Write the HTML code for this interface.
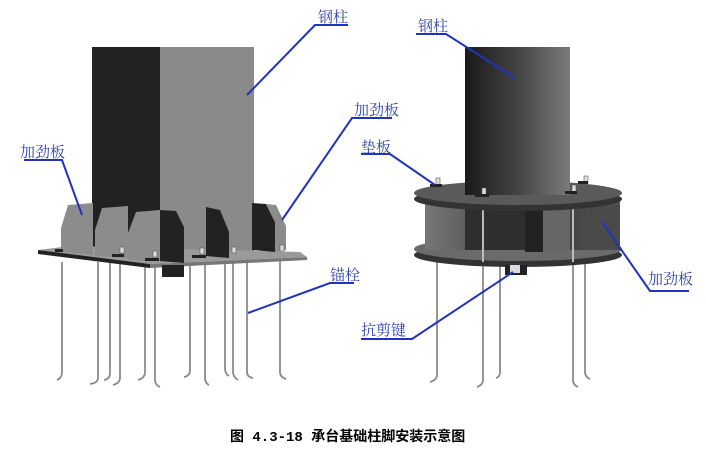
<!DOCTYPE html>
<html><head><meta charset="utf-8"><style>
html,body{margin:0;padding:0;background:#fff;}
svg{display:block;}
.l{font-family:"Liberation Serif","Noto Serif CJK SC",serif;font-size:15px;fill:#3344aa;}
.c{font-family:"Liberation Mono","Noto Sans CJK SC",monospace;font-size:14px;font-weight:bold;fill:#000;}
.ln{stroke:#2233bb;stroke-width:2;fill:none;}
.b{stroke:#8a8a8a;stroke-width:1.8;fill:none;}
</style></head><body>
<svg width="706" height="465" viewBox="0 0 706 465" xmlns="http://www.w3.org/2000/svg">
<defs>
<linearGradient id="cyl" x1="0" x2="1" y1="0" y2="0">
<stop offset="0" stop-color="#1a1a1a"/><stop offset="0.5" stop-color="#444"/><stop offset="1" stop-color="#7a7a7a"/></linearGradient>
<linearGradient id="mid" x1="0" x2="1"><stop offset="0" stop-color="#777"/><stop offset="0.3" stop-color="#555"/><stop offset="0.6" stop-color="#3a3a3a"/><stop offset="1" stop-color="#555"/></linearGradient>
</defs>
<g class="b">
<path d="M62 262 V372 q0 6 -5 8"/><path d="M98 262 V378 q0 5 -8 6"/><path d="M110 262 V373 q0 6 -6 7"/>
<path d="M120 262 V378 q0 5 -7 7"/><path d="M145 264 V372 q0 6 -7 8"/><path d="M155 264 V380 q0 5 5 7"/>
<path d="M190 262 V370 q0 6 -6 7"/><path d="M205 262 V378 q0 5 4 7"/><path d="M225 260 V368 q0 6 4 8"/>
<path d="M233 260 V372 q0 5 5 8"/><path d="M247 258 V372 q0 5 6 6"/><path d="M280 257 V372 q0 5 6 7"/>
</g>
<rect x="92" y="47" width="68" height="200" fill="#222"/>
<rect x="160" y="47" width="94" height="205" fill="#8a8a8a"/>
<polygon points="38,250 70,246 300,252 307,257 150,264" fill="#9a9a9a"/>
<polygon points="38,250 150,264 150,268 38,254" fill="#222"/>
<polygon points="150,264 307,257 307,260 150,268" fill="#777"/>
<rect x="162" y="265" width="22" height="12" fill="#222"/>
<polygon points="61,228 68,205 93,203 93,255 61,252" fill="#8c8c8c"/>
<polygon points="95,230 102,208 128,206 128,258 95,256" fill="#8c8c8c"/>
<polygon points="128,233 136,212 160,210 160,261 128,260" fill="#8c8c8c"/>
<polygon points="160,210 176,211 184,227 184,263 160,261" fill="#222"/>
<polygon points="206,207 220,210 229,232 229,258 206,256" fill="#222"/>
<polygon points="252,203 266,204 275,222 275,252 252,250" fill="#222"/>
<polygon points="266,204 276,205 286,226 286,250 275,252 275,222" fill="#8c8c8c"/>
<g fill="#ddd" stroke="#555" stroke-width="0.6">
<rect x="120" y="247" width="4" height="6"/><rect x="153" y="251" width="4" height="6"/><rect x="200" y="248" width="4" height="6"/><rect x="232" y="247" width="4" height="6"/><rect x="280" y="245" width="4" height="6"/></g>
<g fill="#222"><rect x="112" y="254" width="12" height="3"/><rect x="145" y="258" width="14" height="3"/><rect x="192" y="255" width="14" height="3"/><rect x="55" y="249" width="8" height="3"/></g>

<g class="b">
<path d="M437 258 V375 q0 5 -7 7"/><path d="M483 262 V380 q0 5 -6 7"/><path d="M500 262 V372 q0 5 -4 6"/>
<path d="M573 262 V380 q0 5 5 7"/><path d="M585 258 V372 q0 5 5 7"/>
</g>
<ellipse cx="518" cy="255" rx="104" ry="12" fill="#333"/>
<ellipse cx="518" cy="249" rx="104" ry="12" fill="#6a6a6a"/>
<rect x="425" y="200" width="195" height="50" fill="url(#mid)"/>
<rect x="465" y="205" width="105" height="45" fill="#2e2e2e"/>
<rect x="525" y="205" width="18" height="47" fill="#222"/>
<rect x="543" y="205" width="27" height="45" fill="#666"/>
<rect x="590" y="205" width="30" height="45" fill="#4a4a4a"/>
<line x1="483" y1="195" x2="483" y2="262" stroke="#bbb" stroke-width="2"/>
<line x1="573" y1="195" x2="573" y2="262" stroke="#bbb" stroke-width="2"/>
<rect x="505" y="265" width="22" height="10" fill="#222"/><rect x="510" y="265" width="10" height="8" fill="#ddd"/>
<ellipse cx="518" cy="199" rx="104" ry="12" fill="#333"/>
<ellipse cx="518" cy="193" rx="104" ry="12" fill="#5a5a5a"/>
<rect x="465" y="47" width="105" height="148" fill="url(#cyl)"/>
<g fill="#ddd" stroke="#555" stroke-width="0.6">
<rect x="436" y="178" width="4" height="7"/><rect x="482" y="188" width="4" height="7"/><rect x="572" y="185" width="4" height="7"/><rect x="584" y="176" width="4" height="7"/></g>
<g fill="#222"><rect x="430" y="184" width="12" height="3"/><rect x="475" y="194" width="14" height="3"/><rect x="565" y="191" width="12" height="3"/><rect x="578" y="181" width="10" height="3"/></g>

<text class="l" x="318" y="22">钢柱</text>
<path class="ln" d="M348 25 H315 L247 95"/>
<text class="l" x="20" y="157">加劲板</text>
<path class="ln" d="M24 160 H62 L82 215"/>
<text class="l" x="354" y="115">加劲板</text>
<path class="ln" d="M392 118 H352 L282 220"/>
<text class="l" x="330" y="280">锚栓</text>
<path class="ln" d="M354 283 H330 L248 313"/>
<text class="l" x="418" y="31">钢柱</text>
<path class="ln" d="M416 34 H446 L515 78"/>
<text class="l" x="361" y="152">垫板</text>
<path class="ln" d="M361 154 H390 L435 185"/>
<text class="l" x="648" y="284">加劲板</text>
<path class="ln" d="M689 291 H650 L602 222"/>
<text class="l" x="361" y="335">抗剪键</text>
<path class="ln" d="M361 339 H412 L513 272"/>
<text class="c" x="230" y="441">图 4.3-18 承台基础柱脚安装示意图</text>
</svg>
</body></html>
